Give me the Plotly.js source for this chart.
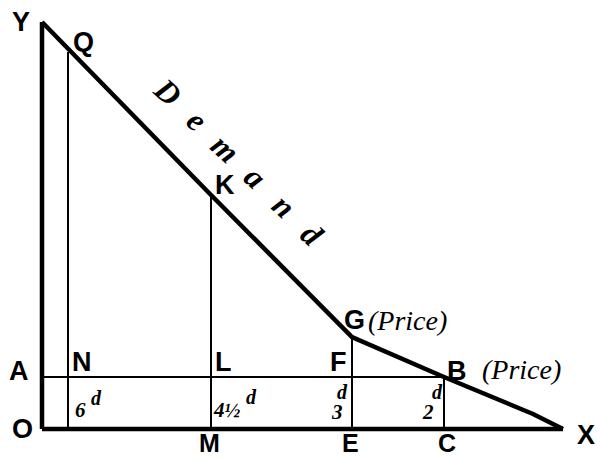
<!DOCTYPE html>
<html>
<head>
<meta charset="utf-8">
<script src="https://cdn.plot.ly/plotly-3.0.1.min.js"></script>
<style>html,body{margin:0;padding:0;background:#fff;}#chart{width:597px;height:459px;}</style>
</head>
<body>
<div id="chart"></div>
<script>
// Demand curve (quantity, price) in diagram units
const demandQty   = [0, 169, 310, 402, 491, 521];
const demandPrice = [407, 234, 92, 52, 15, 0];

// Marked points on the curve
const pointLabels = ['Q', 'K', 'G', 'B'];
const pointQty    = [26, 169, 310, 402];
const pointPrice  = [377, 234, 92, 52];

// Feet of ordinates on the X axis
const footLabels  = ['', 'M', 'E', 'C'];
// Where the ordinates cross the price line OA
const crossLabels = ['N', 'L', 'F', ''];
// Prices written at each ordinate
const priceLabels = ['6', '4½', '3', '2'];

// Axes extents
const axisQtyMax = 521;
const axisPriceMax = 407;
const linePrice = 52;   // height of the line A–B

const traces = [];
// Y axis
traces.push({x: [0, 0], y: [0, axisPriceMax], mode: 'lines', line: {color: '#000', width: 4.5}, hoverinfo: 'skip'});
// X axis
traces.push({x: [0, axisQtyMax], y: [0, 0], mode: 'lines', line: {color: '#000', width: 4.5}, hoverinfo: 'skip'});
// horizontal line A-B
traces.push({x: [0, pointQty[3]], y: [linePrice, linePrice], mode: 'lines', line: {color: '#000', width: 2}, hoverinfo: 'skip'});
// ordinates
for (let i = 0; i < pointQty.length; i++) {
  traces.push({x: [pointQty[i], pointQty[i]], y: [0, pointPrice[i]], mode: 'lines', line: {color: '#000', width: 2}, hoverinfo: 'skip'});
}
// demand curve
traces.push({x: demandQty, y: demandPrice, mode: 'lines', line: {color: '#000', width: 4.5}, hoverinfo: 'skip'});

const sans = {family: 'Liberation Sans, Arial, sans-serif', size: 27, color: '#000', weight: 'bold'};
const sansFoot = {family: 'Liberation Sans, Arial, sans-serif', size: 25, color: '#000', weight: 'bold'};
const serifI = {family: 'Liberation Serif, Times New Roman, serif', size: 28, color: '#000', style: 'italic'};
const numF = {family: 'Liberation Serif, Times New Roman, serif', size: 21, color: '#000', style: 'italic', weight: 'bold'};
const supF = {family: 'Liberation Serif, Times New Roman, serif', size: 20, color: '#000', style: 'italic', weight: 'bold'};

const ann = [];
function A(text, x, y, font, xs, ys, extra) {
  ann.push(Object.assign({text: text, x: x, y: y, xref: 'x', yref: 'y', showarrow: false, font: font, xshift: xs || 0, yshift: ys || 0, xanchor: 'center', yanchor: 'middle'}, extra || {}));
}
// Axis letters
A('Y', 0, axisPriceMax, sans, -21, 0);
A('O', 0, 0, sans, -20, 0);
A('X', axisQtyMax, 0, sans, 23, -6);
A('A', 0, linePrice, sans, -23, 6);
// point labels
A('Q', pointQty[0], pointPrice[0], sans, 15, 10);
A('K', pointQty[1], pointPrice[1], sans, 14, 10);
A('G', pointQty[2], pointPrice[2], sans, 2, 17);
A('B', pointQty[3], pointPrice[3], sans, 13, 6);
A('(Price)', pointQty[2], pointPrice[2], serifI, 55, 17);
A('(Price)', pointQty[3], pointPrice[3], serifI, 77, 8);
// crossing labels
const crossShift = [14, 12, -14, 0];
const footShift = [0, -2, -2, 3];
for (let i = 0; i < pointQty.length; i++) {
  if (crossLabels[i]) A(crossLabels[i], pointQty[i], linePrice, sans, crossShift[i], 15);
  if (footLabels[i]) A(footLabels[i], pointQty[i], 0, sansFoot, footShift[i], -14);
}
// price labels
A(priceLabels[0], pointQty[0], 0, numF, 12, 19);
A('d', pointQty[0], 0, supF, 28, 31);
A(priceLabels[1], pointQty[1], 0, numF, 16, 19);
A('d', pointQty[1], 0, supF, 40, 32);
A(priceLabels[2], pointQty[2], 0, numF, -15, 17);
A('d', pointQty[2], 0, supF, -10, 37);
A(priceLabels[3], pointQty[3], 0, numF, -16, 17);
A('d', pointQty[3], 0, supF, -7, 37);

// "Demand" letters along the upper part of the curve
const word = ['D', 'e', 'm', 'a', 'n', 'd'];
const x0 = demandQty[0], y0 = demandPrice[0];
const x1 = pointQty[2], y1 = pointPrice[2];
const L = Math.hypot(x1 - x0, y1 - y0);
const ux = (x1 - x0) / L, uy = (y1 - y0) / L;   // along line (down-right)
const nx = -uy, ny = ux;                          // normal pointing up-right
const angle = Math.atan2(-(y1 - y0), x1 - x0) * 180 / Math.PI; // slope angle (~45)
for (let i = 0; i < word.length; i++) {
  const t = 138 + i * 40.7;
  const off = 41 + i * 0.6;
  A(word[i], x0 + ux * t + nx * off, y0 + uy * t + ny * off, {family: 'Liberation Serif, Times New Roman, serif', size: 32, color: '#000', style: 'italic', weight: 'bold'}, 0, 0, {textangle: angle - 3});
}

const layout = {
  width: 597, height: 459,
  margin: {l: 0, r: 0, t: 0, b: 0},
  paper_bgcolor: '#fff', plot_bgcolor: '#fff',
  showlegend: false,
  xaxis: {range: [-42, 555], visible: false, fixedrange: true},
  yaxis: {range: [-30, 429], visible: false, fixedrange: true},
  annotations: ann
};
Plotly.newPlot('chart', traces, layout, {staticPlot: true, displayModeBar: false});
</script>
</body>
</html>
